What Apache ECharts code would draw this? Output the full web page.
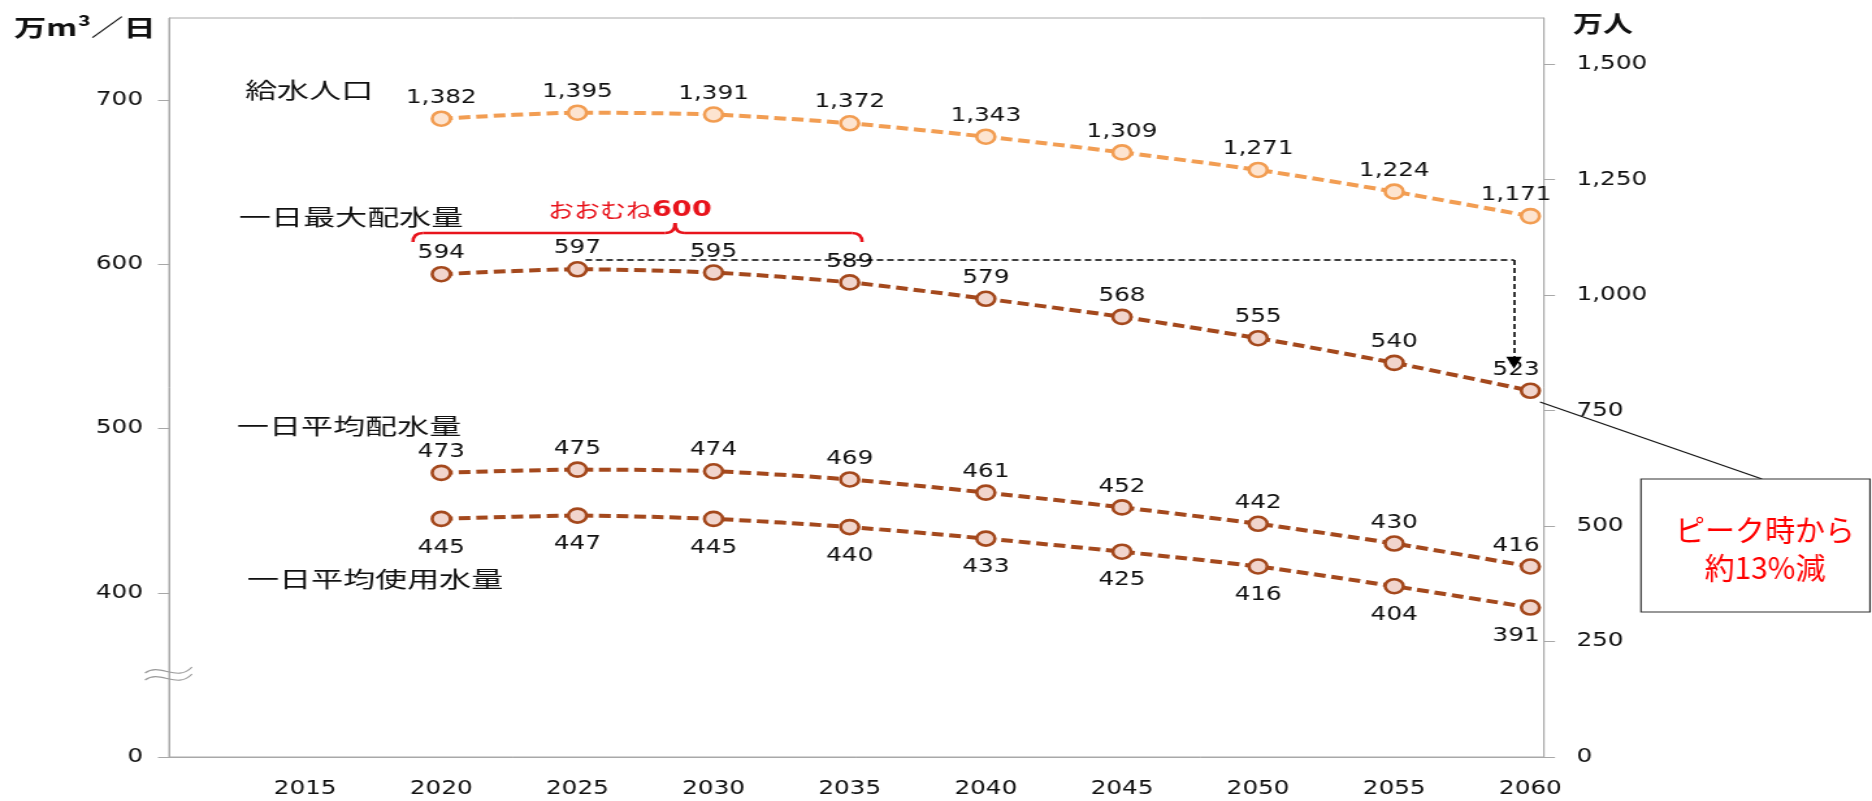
<!DOCTYPE html>
<html><head><meta charset="utf-8">
<script src="https://cdn.jsdelivr.net/npm/echarts@6/dist/echarts.min.js"></script>
<style>
html,body{margin:0;padding:0;background:#fff;overflow:hidden;width:1872px;height:801px}
#c{width:1440px;height:801px;transform:scaleX(1.3);transform-origin:0 0}
</style></head>
<body><div id="c"></div>
<script>
// ---- data ----
const years = [2020, 2025, 2030, 2035, 2040, 2045, 2050, 2055, 2060];
const population = [1382, 1395, 1391, 1372, 1343, 1309, 1271, 1224, 1171];      // 万人 (right axis)
const maxDistribution = [594, 597, 595, 589, 579, 568, 555, 540, 523];          // 一日最大配水量
const avgDistribution = [473, 475, 474, 469, 461, 452, 442, 430, 416];          // 一日平均配水量
const avgUsage = [445, 447, 445, 440, 433, 425, 416, 404, 391];                 // 一日平均使用水量
const xTickLabels = [2015, 2020, 2025, 2030, 2035, 2040, 2045, 2050, 2055, 2060];
const leftTickValues = [300, 400, 500, 600, 700];   // broken axis: 300 shown as "0"
const rightTickValues = [0, 250, 500, 750, 1000, 1250, 1500];
const seriesNames = ['給水人口', '一日最大配水量', '一日平均配水量', '一日平均使用水量'];
const peakLevel = 602.6, arrowEnd = 540, peakYearStart = 2025.3, peakYearEnd = 2059.4;

// ---- layout helpers ----
const SX = 1.3;                 // page is stretched horizontally like the reference
const X = px => px / SX;
const NUM = 'DejaVu Sans';
const JP = '"Noto Sans CJK JP"';
const ORANGE = '#f29d52', ORANGE_FILL = '#fde4d0';
const BROWN = '#a4481c', BROWN_FILL = '#f1d5cd';
const RED = '#e8141c';

const chart = echarts.init(document.getElementById('c'), null, {renderer: 'canvas'});
const fmt = v => Number(v).toLocaleString('en-US');

function mkData(vals, lastOffset) {
  return vals.map((v, i) => {
    const d = {value: [years[i], v]};
    if (i === vals.length - 1) d.label = {offset: lastOffset};
    return d;
  });
}
function lineSeries(name, vals, yIdx, color, fill, pos, dist, isPop) {
  return {
    name, type: 'line', yAxisIndex: yIdx, data: mkData(vals, [-11, 0]),
    smooth: 0.25, symbol: 'circle', symbolSize: 14,
    lineStyle: {color, width: 4, type: [9, 4.5]},
    itemStyle: {color: fill, borderColor: color, borderWidth: 2.6},
    label: {show: true, position: pos, distance: dist, fontFamily: NUM, fontSize: 19, color: '#111',
      formatter: p => isPop ? fmt(p.value[1]) : String(p.value[1])},
    emphasis: {disabled: true}, animation: false, z: 3
  };
}

const series = [
  lineSeries(seriesNames[0], population, 1, ORANGE, ORANGE_FILL, 'top', 3, true),
  lineSeries(seriesNames[1], maxDistribution, 0, BROWN, BROWN_FILL, 'top', 3, false),
  lineSeries(seriesNames[2], avgDistribution, 0, BROWN, BROWN_FILL, 'top', 3, false),
  lineSeries(seriesNames[3], avgUsage, 0, BROWN, BROWN_FILL, 'bottom', 11, false)
];
series[1].markLine = {
  silent: true, animation: false, label: {show: false},
  lineStyle: {color: '#000', width: 1.6, type: [5, 3]},
  symbolSize: 12,
  data: [
    [{coord: [peakYearStart, peakLevel], symbol: 'none'}, {coord: [peakYearEnd, peakLevel], symbol: 'none'}],
    [{coord: [peakYearEnd, peakLevel], symbol: 'none'}, {coord: [peakYearEnd, arrowEnd], symbol: 'triangle'}]
  ]
};

function qcurve(x1, y1, cx, cy, x2, y2, stroke, w) {
  return {type: 'bezierCurve', z: 5, silent: true,
    shape: {x1: X(x1), y1, cpx1: X(cx), cpy1: cy, x2: X(x2), y2},
    style: {stroke, lineWidth: w, fill: null}};
}
function ccurve(x1, y1, c1x, c1y, c2x, c2y, x2, y2, stroke, w) {
  return {type: 'bezierCurve', z: 5, silent: true,
    shape: {x1: X(x1), y1, cpx1: X(c1x), cpy1: c1y, cpx2: X(c2x), cpy2: c2y, x2: X(x2), y2},
    style: {stroke, lineWidth: w, fill: null}};
}
function seg(x1, y1, x2, y2, stroke, w) {
  return {type: 'line', z: 5, silent: true, shape: {x1: X(x1), y1, x2: X(x2), y2}, style: {stroke, lineWidth: w}};
}
function label(text, px, y, opts) {
  return Object.assign({type: 'text', z: 6, silent: true, x: X(px), y,
    style: Object.assign({text, fontFamily: JP, fontSize: 22, fill: '#111', textAlign: 'left', textVerticalAlign: 'middle'}, opts.style || {})},
    opts.el || {});
}

const axisGray = '#a8a8a8';
const option = {
  backgroundColor: '#fff',
  grid: {left: X(169), right: 1440 - X(1544), top: 18, bottom: 44, show: true, borderColor: axisGray, borderWidth: 1, containLabel: false},
  xAxis: {
    type: 'value', min: 2010, max: 2060.5, interval: 5,
    axisLine: {show: true, lineStyle: {color: axisGray}},
    axisTick: {show: false},
    splitLine: {show: false},
    axisLabel: {customValues: xTickLabels, margin: 23, fontFamily: NUM, fontSize: 19, color: '#111',
      formatter: v => xTickLabels.includes(v) ? String(v) : ''}
  },
  yAxis: [
    {type: 'value', min: 300, max: 750, interval: 100, position: 'left',
      axisLine: {show: true, lineStyle: {color: axisGray}},
      axisTick: {show: true, customValues: leftTickValues, length: 8.5, lineStyle: {color: axisGray}},
      splitLine: {show: false},
      axisLabel: {customValues: leftTickValues, margin: 20, fontFamily: NUM, fontSize: 19, color: '#111',
        formatter: v => v === 300 ? '0' : (leftTickValues.includes(v) ? String(v) : '')}},
    {type: 'value', min: 0, max: 1600, interval: 250, position: 'right',
      axisLine: {show: true, lineStyle: {color: axisGray}},
      axisTick: {show: true, customValues: rightTickValues, length: 8.5, lineStyle: {color: axisGray}},
      splitLine: {show: false},
      axisLabel: {customValues: rightTickValues, margin: 25, fontFamily: NUM, fontSize: 19, color: '#111',
        formatter: v => rightTickValues.includes(v) ? fmt(v) : ''}}
  ],
  series,
  graphic: [
    label('万m³／日', 14, 27, {style: {fontSize: 23, fontWeight: 'bold'}, el: {scaleX: 1.08}}),
    label('万人', 1573, 23, {style: {fontSize: 23, fontWeight: 'bold'}}),
    label(seriesNames[0], 245, 90, {el: {scaleX: 1.12}}),
    label(seriesNames[1], 239, 217, {el: {scaleX: 1.12}}),
    label(seriesNames[2], 237, 426, {el: {scaleX: 1.12}}),
    label(seriesNames[3], 247, 579, {el: {scaleX: 1.12}}),
    // brace "おおむね600"
    qcurve(413, 242, 413, 233, 423, 233, RED, 2.6),
    seg(423, 233, 665, 233, RED, 2.6),
    qcurve(665, 233, 675, 233, 675, 223, RED, 2.6),
    qcurve(675, 223, 675, 233, 685, 233, RED, 2.6),
    seg(685, 233, 852, 233, RED, 2.6),
    qcurve(852, 233, 862, 233, 862, 242, RED, 2.6),
    {type: 'text', z: 6, silent: true, x: X(548), y: 210, style: {text: '{a|おおむね}{b|600}', textAlign: 'left', textVerticalAlign: 'middle',
      rich: {a: {fontFamily: JP, fontSize: 20, fill: RED, fontWeight: 'normal'},
             b: {fontFamily: NUM, fontSize: 22, fill: RED, fontWeight: 'bold'}}}},
    // axis break mark
    ccurve(145, 673, 160, 662, 177, 683, 192, 667, '#9a9a9a', 1.2),
    ccurve(145, 680, 160, 669, 177, 690, 192, 674, '#9a9a9a', 1.2),
    // callout
    seg(1540, 402, 1762, 479, '#111', 1.2),
    {type: 'rect', z: 5, silent: true, shape: {x: X(1641), y: 479, width: X(229), height: 133}, style: {stroke: '#333', lineWidth: 1.2, fill: '#fff'}},
    {type: 'text', z: 6, silent: true, x: X(1765), y: 530, scaleX: 1 / SX, style: {text: 'ピーク時から', fontFamily: JP, fontSize: 30, fill: '#ff0000', textAlign: 'center', textVerticalAlign: 'middle'}},
    {type: 'text', z: 6, silent: true, x: X(1765), y: 568, scaleX: 1 / SX, style: {text: '約13%減', fontFamily: JP, fontSize: 30, fill: '#ff0000', textAlign: 'center', textVerticalAlign: 'middle'}}
  ]
};
chart.setOption(option);
</script>
</body></html>
